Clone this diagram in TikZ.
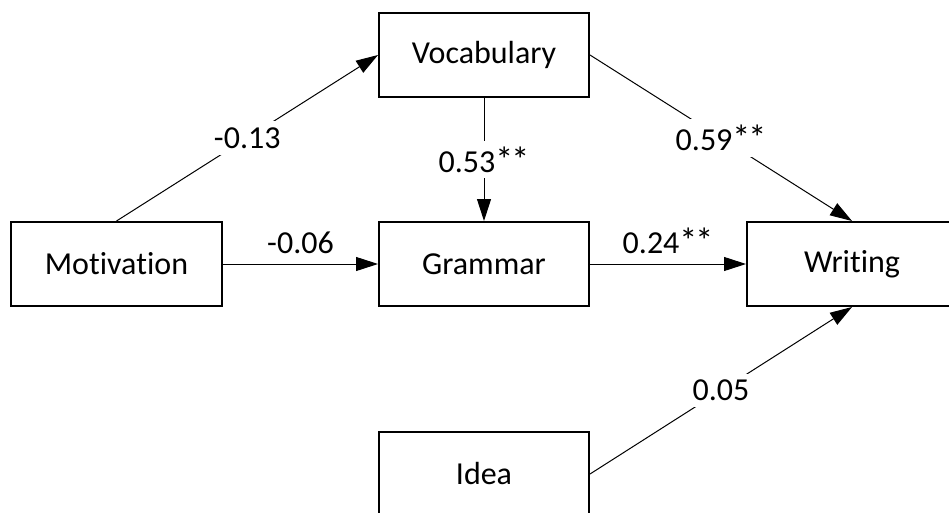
\documentclass[tikz,border=0pt]{standalone}
\usepackage{fontspec}
\setmainfont{Carlito}[RawFeature={-liga;-clig;-calt;-dlig}]
\usetikzlibrary{arrows.meta}
\newcommand{\sigstar}{{\fontsize{36}{38}\selectfont *}}
\begin{document}
\begin{tikzpicture}[x=1pt,y=-1pt,
  every node/.style={font=\fontsize{32}{38}\selectfont},
  varbox/.style={draw, line width=2pt, minimum width=210pt, minimum height=84pt, inner sep=0pt, fill=white},
  path/.style={line width=1pt, -{Triangle[length=22pt,width=14pt]}},
  elabel/.style={fill=white, inner sep=6pt},
  hlabel/.style={above=10pt, inner sep=0pt}]
\useasboundingbox (0,0) rectangle (949,513);
\fill[white] (0,0) rectangle (949,513);
\begin{scope}
\clip (0,0) rectangle (949,513);
\node[varbox] (voc) at (484,55) {Vocabulary};
\node[varbox, minimum width=211pt] (mot) at (116.5,264) {Motiva\kern0pt tion};
\node[varbox] (gra) at (484,264) {Grammar};
\node[varbox] (wri) at (852,264) {Wri\kern0pt ting};
\node[varbox] (idea) at (484,474) {Idea};
\draw[path] (mot.north) -- node[elabel] {-0.13} (voc.west);
\draw[path] (voc.east) -- node[elabel] {0.59\sigstar\kern-2pt\sigstar} (wri.north);
\draw[path] (voc.south) -- node[elabel] {0.53\sigstar\kern-2pt\sigstar} (gra.north);
\draw[path] (mot.east) -- node[hlabel] {-0.06} (gra.west);
\draw[path] (gra.east) -- node[hlabel] {0.24\sigstar\kern-2pt\sigstar} (wri.west);
\draw[path] (idea.east) -- node[elabel] {0.05} (wri.south);
\end{scope}
\end{tikzpicture}
\end{document}
